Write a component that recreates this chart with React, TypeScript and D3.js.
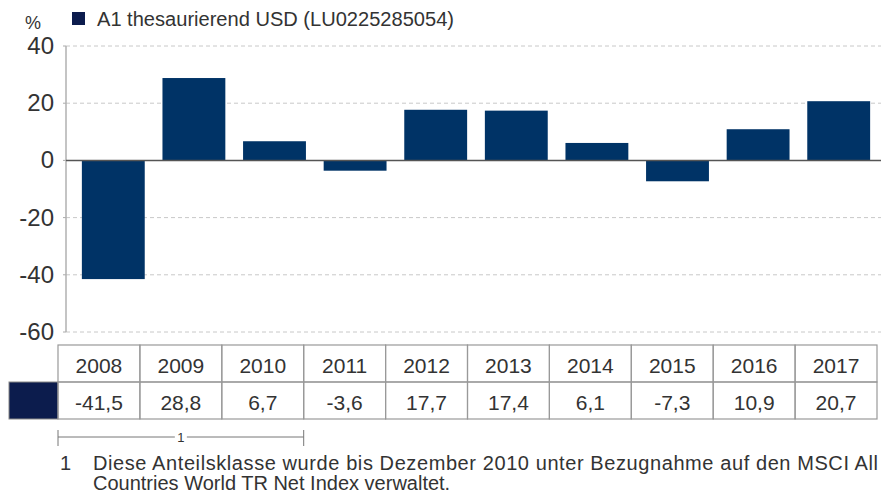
import React from "react";
import * as d3 from "d3";

const years = ["2008", "2009", "2010", "2011", "2012", "2013", "2014", "2015", "2016", "2017"];
const values = [-41.5, 28.8, 6.7, -3.6, 17.7, 17.4, 6.1, -7.3, 10.9, 20.7];
const yTicks = [40, 20, 0, -20, -40, -60];
const seriesName = "A1 thesaurierend USD (LU0225285054)";
const footLine1 = "Diese Anteilsklasse wurde bis Dezember 2010 unter Bezugnahme auf den MSCI All";
const footLine2 = "Countries World TR Net Index verwaltet.";

const fmt = (v: number) => v.toFixed(1).replace(".", ",");

export default function App() {
  const W = 881, H = 495;
  const font = "'Liberation Sans', Arial, sans-serif";
  const text = "#333";
  const barColor = "#003366";
  const swatch = "#0c1c4d";

  const y = d3.scaleLinear().domain([-60, 40]).range([332, 46]);
  const x = d3.scaleBand<string>().domain(years).range([73, 879]).paddingInner(0.22).paddingOuter(0.11);
  const col = d3.scaleBand<string>().domain(years).range([58, 877]);

  const axisX = 66;
  return (
    <svg width={W} height={H} style={{ position: "absolute", left: 0, top: 0, background: "#fff" }} fontFamily={font}>
      {/* legend */}
      <text x={25} y={29} fontSize={18} fill={text}>%</text>
      <rect x={72} y={12} width={13} height={13} fill={swatch} />
      <text x={97} y={26} fontSize={20} fill={text} textLength={357} lengthAdjust="spacingAndGlyphs">{seriesName}</text>

      {/* gridlines */}
      {yTicks.map((t) => (
        <g key={t}>
          {t !== 0 && (
            <line x1={axisX} x2={W} y1={y(t)} y2={y(t)} stroke="#c8c8c8" strokeDasharray="4,3" strokeWidth={1} />
          )}
          <line x1={axisX - 3} x2={axisX} y1={y(t)} y2={y(t)} stroke="#aaa" />
          <text x={54} y={y(t) + 8} textAnchor="end" fontSize={24} fill={text}>{t}</text>
        </g>
      ))}
      <line x1={axisX} x2={axisX} y1={y(40)} y2={y(-60)} stroke="#b0b0b0" strokeWidth={1.5} />

      {/* bars */}
      {values.map((v, i) => (
        <rect
          key={years[i]}
          x={x(years[i])}
          width={x.bandwidth()}
          y={y(Math.max(0, v))}
          height={Math.abs(y(v) - y(0))}
          fill={barColor}
        />
      ))}
      <line x1={axisX} x2={W} y1={y(0)} y2={y(0)} stroke="#555" strokeWidth={1.5} />

      {/* table */}
      <rect x={9} y={382} width={49} height={37} fill={swatch} stroke="#888" />
      {years.map((yr, i) => (
        <g key={yr}>
          <rect x={col(yr)} y={345} width={col.bandwidth()} height={37} fill="none" stroke="#999" strokeWidth={1.2} />
          <rect x={col(yr)} y={382} width={col.bandwidth()} height={37} fill="none" stroke="#999" strokeWidth={1.2} />
          <text x={(col(yr) as number) + col.bandwidth() / 2} y={373} textAnchor="middle" fontSize={21} fill={text}>{yr}</text>
          <text x={(col(yr) as number) + col.bandwidth() / 2} y={410} textAnchor="middle" fontSize={21} fill={text}>{fmt(values[i])}</text>
        </g>
      ))}

      {/* footnote bracket */}
      {(() => {
        const x1 = col("2008") as number;
        const x2 = (col("2010") as number) + col.bandwidth();
        const mid = (x1 + x2) / 2;
        return (
          <g stroke="#777" strokeWidth={1}>
            <line x1={x1} x2={mid - 6} y1={437} y2={437} />
            <line x1={mid + 6} x2={x2} y1={437} y2={437} />
            <line x1={x1} x2={x1} y1={430} y2={446} />
            <line x1={x2} x2={x2} y1={430} y2={446} />
            <text x={mid} y={442} textAnchor="middle" fontSize={13} fill={text} stroke="none">1</text>
          </g>
        );
      })()}

      {/* footnote */}
      <text x={60} y={470} fontSize={20} fill={text}>1</text>
      <text x={93} y={470} fontSize={20} fill={text} textLength={785} lengthAdjust="spacing">{footLine1}</text>
      <text x={93} y={490} fontSize={20} fill={text}>{footLine2}</text>
    </svg>
  );
}
